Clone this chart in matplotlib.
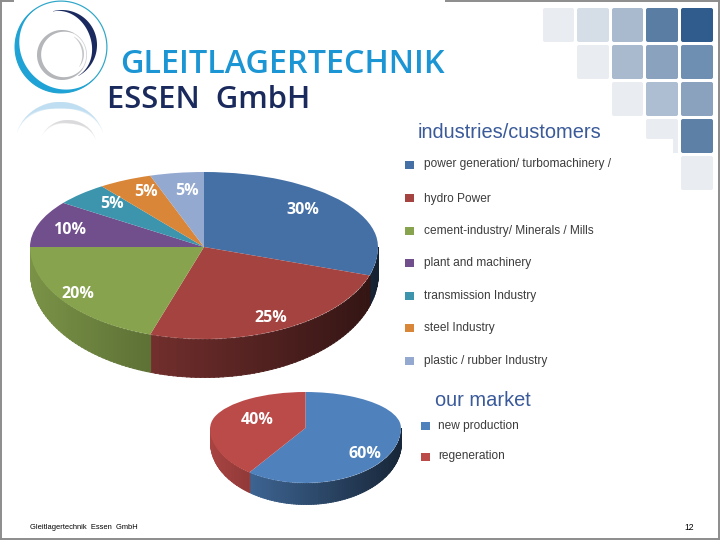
import numpy as np
import matplotlib
matplotlib.use('Agg')
import matplotlib.pyplot as plt
from matplotlib.patches import FancyBboxPatch, Rectangle

industries = ['power generation/ turbomachinery /', 'hydro Power',
              'cement-industry/ Minerals / Mills', 'plant and machinery',
              'transmission Industry', 'steel Industry', 'plastic / rubber Industry']
industry_shares = [30, 25, 20, 10, 5, 5, 5]
industry_colors = ['#4470a6', '#a44340', '#87a34e', '#714f8c', '#3d95ad', '#d98638', '#94a9d0']

market = ['new production', 'regeneration']
market_shares = [60, 40]
market_colors = ['#4f81bd', '#bb4b49']

W, H = 720, 540


def side_wall(ax, shares, colors, depth, ry_dn):
    # side of the disc, split in thin strips so the shade can run left to right
    start = 90.0
    total = sum(shares)
    for share, col in zip(shares, colors):
        end = start - 360.0 * share / total
        angles = np.arange(end, start + 1.5, 1.5)
        rgb = np.array(matplotlib.colors.to_rgb(col))
        for a0, a1 in zip(angles[:-1], angles[1:]):
            t = np.radians(np.linspace(a0, min(a1 + 0.3, start), 4))
            if np.sin(t).mean() > 0:
                continue
            x, y = np.cos(t), np.minimum(np.sin(t), 0)
            drop = depth * (0.68 + 0.32 * np.abs(y)) / ry_dn
            shade = np.clip(0.6 - 0.3 * x.mean(), 0.2, 1)
            ax.fill_between(x, y - drop, y, color=rgb * shade, lw=0.6, zorder=0)
        start = end


def pie_3d(rect, shares, colors, depth):
    # rect is cx, cy, rx, ry_up, ry_down in pixels, y going down
    cx, cy, rx, ry_up, ry_dn = rect
    k = ry_dn / ry_up
    bottom = cy + ry_dn + depth + 3
    ax = fig.add_axes([(cx - rx) / W, 1 - bottom / H, 2 * rx / W, (bottom - cy + ry_up) / H])
    ax.pie(shares, colors=colors, startangle=90, counterclock=False, radius=1,
           wedgeprops={'lw': 0})
    ax.set_aspect('auto')
    ax.set_yscale('function', functions=(lambda v: np.where(v < 0, k * v, v),
                                         lambda v: np.where(v < 0, v / k, v)))
    side_wall(ax, shares, colors, depth, ry_dn)
    ax.set_xlim(-1, 1)
    ax.set_ylim(-(ry_dn + depth + 3) / ry_dn, 1)
    ax.axis('off')
    return ax


def ring(ax, cx, cy, r, a0, a1, thick, col, alpha=1.0):
    # arc whose thickness follows the thick array over the angle range
    t = np.radians(np.linspace(a0, a1, len(thick)))
    xo, yo = cx + r * np.cos(t), cy - r * np.sin(t)
    xi, yi = cx + (r - thick) * np.cos(t), cy - (r - thick) * np.sin(t)
    ax.fill(np.r_[xo, xi[::-1]], np.r_[yo, yi[::-1]], color=col, alpha=alpha, lw=0)


fig = plt.figure(figsize=(7.2, 5.4), dpi=100, facecolor='white')
plt.rcParams['font.family'] = ['Liberation Sans', 'DejaVu Sans']

pie_3d((204, 247, 174, 75, 92), industry_shares, industry_colors, 38)
pie_3d((305.5, 428, 95.5, 36, 55), market_shares, market_colors, 21)

bg = fig.add_axes([0, 0, 1, 1], zorder=5)
bg.set_xlim(0, W)
bg.set_ylim(H, 0)
bg.axis('off')

# slide frame
for xs, ys in [([0.5, 0.5], [0, 540]), ([0, 14], [0.5, 0.5]), ([445, 720], [0.5, 0.5]),
               ([719, 719], [0, 540]), ([0, 720], [539, 539])]:
    bg.plot(xs, ys, color='#8c8c8c', lw=1.4, solid_capstyle='butt')

# corner squares
squares = [(543, 8, 31, 34, '#e9edf1'), (577, 8, 32, 34, '#d5dee7'), (612, 8, 31, 34, '#a9bacf'),
           (646, 8, 32, 34, '#5a7da3'), (681, 8, 32, 34, '#2f5c8c'),
           (577, 45, 32, 34, '#e9edf1'), (612, 45, 31, 34, '#a9bacf'), (646, 45, 32, 34, '#8aa2be'),
           (681, 45, 32, 34, '#6e8fb1'), (612, 82, 31, 34, '#e9edf1'), (646, 82, 32, 34, '#adbdd2'),
           (681, 82, 32, 34, '#8aa2be'), (646, 119, 32, 20, '#e9edf1'), (681, 119, 32, 34, '#5d80a6'),
           (681, 156, 32, 34, '#e9edf1')]
for x, y, w, h, col in squares:
    bg.add_patch(FancyBboxPatch((x + 2, y + 2), w - 4, h - 4, boxstyle='round,pad=2,rounding_size=2',
                                fc=col, ec='none'))
bg.add_patch(Rectangle((673, 135), 5, 18, fc='#e9edf1', ec='none'))

# logo
th = np.linspace(0, np.pi, 200)
ring(bg, 61, 47, 46.5, 0, 360, np.full(200, 1.2), '#2da6c8')
ring(bg, 61, 47, 46, 125, 315, 0.5 + 5.8 * np.sin(th) ** 1.5, '#1fa3d6')
ring(bg, 62, 45, 35, 105, -62, 0.3 + 5.5 * np.sin(th) ** 1.5, '#1b2a5e')
ring(bg, 62, 55, 25, 60, 330, 0.6 + 3.6 * np.sin(th), '#b4b6b9')
ring(bg, 62, 55, 25, -30, 60, np.full(200, 0.8), '#d0d2d4')
ring(bg, 64, 54, 20, 60, -40, 0.3 + 1.5 * np.sin(th), '#c4c6c8')
for i in range(8):
    ring(bg, 60, 148, 46, 160 - i * 3, 20 + i * 3, 0.4 + 6 * np.sin(th) ** 2, '#a8d4ef', alpha=0.14)
    ring(bg, 68, 150, 30, 150 - i * 4, 20 + i * 3, 0.4 + 3 * np.sin(th) ** 2, '#c9cbcd', alpha=0.12)

bg.text(120, 64.5, 'GLEITLAGERTECHNIK', family='Open Sans', weight='semibold', fontsize=23.3,
        color='#1b95d3', va='center', ha='left')
bg.text(107, 99.5, 'ESSEN  GmbH', family='Open Sans', weight='semibold', fontsize=22.3,
        color='#1a2a5c', va='center', ha='left')

# pie labels
big_pos = [(303, 210), (271, 318), (78, 294), (70, 230), (112, 204), (146, 192), (187, 191)]
for share, (x, y) in zip(industry_shares, big_pos):
    bg.text(x, y, f'{share}%', family='Open Sans', weight='bold', fontsize=11.5, color='white',
            ha='center', va='center')
small_pos = [(365, 454), (257, 420)]
for share, (x, y) in zip(market_shares, small_pos):
    bg.text(x, y, f'{share}%', family='Open Sans', weight='bold', fontsize=11.5, color='white',
            ha='center', va='center')

# legends
bg.text(418, 132.5, 'industries/customers', fontsize=14.4, color='#3a5a9a', ha='left', va='center')
text_rows = [164, 199, 231, 263, 296, 328, 361]
mark_rows = [165, 198, 231, 263, 296, 328, 361]
for name, col, yt, ym in zip(industries, industry_colors, text_rows, mark_rows):
    bg.add_patch(Rectangle((405, ym - 4), 9, 8, fc=col, ec='none'))
    bg.text(424, yt, name, fontsize=8.6, color='#3c3c3c', ha='left', va='center')

bg.text(435, 400.5, 'our market', fontsize=14.4, color='#3a5a9a', ha='left', va='center')
for name, col, yt, ym in zip(market, market_colors, [426, 456], [426, 457]):
    bg.add_patch(Rectangle((421, ym - 4), 9, 8, fc=col, ec='none'))
    bg.text(438, yt, name, fontsize=8.6, color='#3c3c3c', ha='left', va='center')

bg.text(30, 527.5, 'Gleitlagertechnik  Essen  GmbH', fontsize=5.45, color='black', ha='left', va='center')
bg.text(689, 527.5, '12', fontsize=6.2, color='black', ha='center', va='center')

fig.savefig('out.png', dpi=100)
